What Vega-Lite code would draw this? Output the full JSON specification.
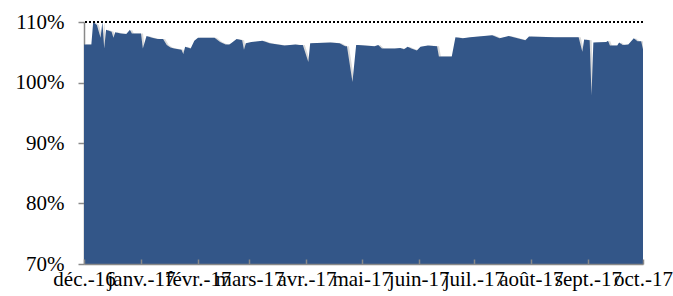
{
  "$schema": "https://vega.github.io/schema/vega-lite/v6.json",
  "width": 559,
  "height": 242,
  "autosize": "none",
  "padding": {"left": 84, "top": 22, "right": 30, "bottom": 32},
  "background": "white",
  "config": {"view": {"stroke": null}},
  "datasets": {"series": [
    {"date": "2016-12-01", "v": 1.063},
    {"date": "2016-12-05", "v": 1.063},
    {"date": "2016-12-06", "v": 1.100},
    {"date": "2016-12-08", "v": 1.095},
    {"date": "2016-12-10", "v": 1.074},
    {"date": "2016-12-11", "v": 1.100},
    {"date": "2016-12-12", "v": 1.056},
    {"date": "2016-12-13", "v": 1.087},
    {"date": "2016-12-16", "v": 1.084},
    {"date": "2016-12-17", "v": 1.074},
    {"date": "2016-12-18", "v": 1.083},
    {"date": "2016-12-21", "v": 1.081},
    {"date": "2016-12-24", "v": 1.080},
    {"date": "2016-12-26", "v": 1.087},
    {"date": "2016-12-27", "v": 1.081},
    {"date": "2016-12-30", "v": 1.081},
    {"date": "2017-01-01", "v": 1.081},
    {"date": "2017-01-02", "v": 1.056},
    {"date": "2017-01-04", "v": 1.077},
    {"date": "2017-01-07", "v": 1.074},
    {"date": "2017-01-10", "v": 1.072},
    {"date": "2017-01-13", "v": 1.072},
    {"date": "2017-01-15", "v": 1.062},
    {"date": "2017-01-17", "v": 1.058},
    {"date": "2017-01-19", "v": 1.056},
    {"date": "2017-01-23", "v": 1.054},
    {"date": "2017-01-24", "v": 1.047},
    {"date": "2017-01-25", "v": 1.059},
    {"date": "2017-01-28", "v": 1.056},
    {"date": "2017-01-30", "v": 1.069},
    {"date": "2017-02-01", "v": 1.074},
    {"date": "2017-02-10", "v": 1.074},
    {"date": "2017-02-13", "v": 1.067},
    {"date": "2017-02-16", "v": 1.063},
    {"date": "2017-02-18", "v": 1.063},
    {"date": "2017-02-19", "v": 1.065},
    {"date": "2017-02-22", "v": 1.072},
    {"date": "2017-02-25", "v": 1.070},
    {"date": "2017-02-26", "v": 1.054},
    {"date": "2017-02-27", "v": 1.065},
    {"date": "2017-03-02", "v": 1.067},
    {"date": "2017-03-08", "v": 1.069},
    {"date": "2017-03-12", "v": 1.065},
    {"date": "2017-03-20", "v": 1.061},
    {"date": "2017-03-26", "v": 1.063},
    {"date": "2017-03-28", "v": 1.062},
    {"date": "2017-03-30", "v": 1.062},
    {"date": "2017-04-02", "v": 1.034},
    {"date": "2017-04-03", "v": 1.065},
    {"date": "2017-04-14", "v": 1.066},
    {"date": "2017-04-19", "v": 1.065},
    {"date": "2017-04-22", "v": 1.060},
    {"date": "2017-04-23", "v": 1.060},
    {"date": "2017-04-26", "v": 1.001},
    {"date": "2017-04-28", "v": 1.062},
    {"date": "2017-04-29", "v": 1.062},
    {"date": "2017-05-08", "v": 1.060},
    {"date": "2017-05-10", "v": 1.062},
    {"date": "2017-05-12", "v": 1.056},
    {"date": "2017-05-19", "v": 1.056},
    {"date": "2017-05-22", "v": 1.057},
    {"date": "2017-05-24", "v": 1.055},
    {"date": "2017-05-26", "v": 1.059},
    {"date": "2017-05-28", "v": 1.056},
    {"date": "2017-05-31", "v": 1.053},
    {"date": "2017-06-02", "v": 1.059},
    {"date": "2017-06-06", "v": 1.061},
    {"date": "2017-06-11", "v": 1.060},
    {"date": "2017-06-12", "v": 1.043},
    {"date": "2017-06-19", "v": 1.043},
    {"date": "2017-06-21", "v": 1.075},
    {"date": "2017-06-25", "v": 1.073},
    {"date": "2017-06-29", "v": 1.075},
    {"date": "2017-07-11", "v": 1.078},
    {"date": "2017-07-15", "v": 1.073},
    {"date": "2017-07-20", "v": 1.077},
    {"date": "2017-07-29", "v": 1.070},
    {"date": "2017-07-31", "v": 1.076},
    {"date": "2017-08-14", "v": 1.075},
    {"date": "2017-08-27", "v": 1.075},
    {"date": "2017-08-29", "v": 1.051},
    {"date": "2017-08-30", "v": 1.071},
    {"date": "2017-09-02", "v": 1.070},
    {"date": "2017-09-03", "v": 0.979},
    {"date": "2017-09-04", "v": 1.066},
    {"date": "2017-09-11", "v": 1.067},
    {"date": "2017-09-12", "v": 1.069},
    {"date": "2017-09-13", "v": 1.061},
    {"date": "2017-09-17", "v": 1.061},
    {"date": "2017-09-18", "v": 1.066},
    {"date": "2017-09-20", "v": 1.062},
    {"date": "2017-09-23", "v": 1.063},
    {"date": "2017-09-26", "v": 1.073},
    {"date": "2017-09-28", "v": 1.068},
    {"date": "2017-09-30", "v": 1.068},
    {"date": "2017-10-01", "v": 1.055}
  ],
  "target": [{"target": 1.1}]},
  "layer": [
    {
      "data": {"name": "series"},
      "mark": {"type": "area", "color": "#c9c9c9", "opacity": 0.7, "xOffset": 2, "clip": true},
      "encoding": {
        "x": {
          "field": "date", "type": "temporal",
          "scale": {"type": "utc",
            "domain": [{"year": 2016, "month": 12, "date": 1, "utc": true}, {"year": 2017, "month": 10, "date": 1, "utc": true}]},
          "axis": {
            "title": null,
            "values": [
              {"year": 2016, "month": 12, "date": 1, "utc": true},
              {"year": 2017, "month": 1, "date": 1, "utc": true},
              {"year": 2017, "month": 2, "date": 1, "utc": true},
              {"year": 2017, "month": 3, "date": 1, "utc": true},
              {"year": 2017, "month": 4, "date": 1, "utc": true},
              {"year": 2017, "month": 5, "date": 1, "utc": true},
              {"year": 2017, "month": 6, "date": 1, "utc": true},
              {"year": 2017, "month": 7, "date": 1, "utc": true},
              {"year": 2017, "month": 8, "date": 1, "utc": true},
              {"year": 2017, "month": 9, "date": 1, "utc": true},
              {"year": 2017, "month": 10, "date": 1, "utc": true}
            ],
            "labelExpr": "['janv.','févr.','mars','avr.','mai','juin','juil.','août','sept.','oct.','nov.','déc.'][utcmonth(datum.value)] + '-' + utcFormat(datum.value, '%y')",
            "labelFont": "Liberation Serif", "labelFontSize": 21, "labelColor": "#000000",
            "labelOverlap": false, "labelFlush": false, "labelPadding": 9,
            "domainColor": "#898989", "domainWidth": 1.5,
            "tickColor": "#898989", "tickSize": -5, "tickWidth": 1.5,
            "grid": false, "zindex": 1
          }
        },
        "y": {
          "field": "v", "type": "quantitative",
          "scale": {"domain": [0.7, 1.1], "zero": false},
          "axis": {
            "title": null, "values": [0.7, 0.8, 0.9, 1.0, 1.1], "format": ".0%",
            "labelFont": "Liberation Serif", "labelFontSize": 21, "labelColor": "#000000",
            "labelPadding": 14, "domainColor": "#898989", "domainWidth": 1.5,
            "tickColor": "#898989", "tickSize": 6, "tickWidth": 1.5, "grid": false
          }
        }
      }
    },
    {
      "data": {"name": "series"},
      "mark": {"type": "area", "color": "#335688", "clip": true},
      "encoding": {
        "x": {"field": "date", "type": "temporal"},
        "y": {"field": "v", "type": "quantitative"}
      }
    },
    {
      "data": {"name": "target"},
      "mark": {"type": "rule", "color": "#000000", "strokeWidth": 2, "strokeDash": [2, 2]},
      "encoding": {"y": {"field": "target", "type": "quantitative"}}
    }
  ]
}
